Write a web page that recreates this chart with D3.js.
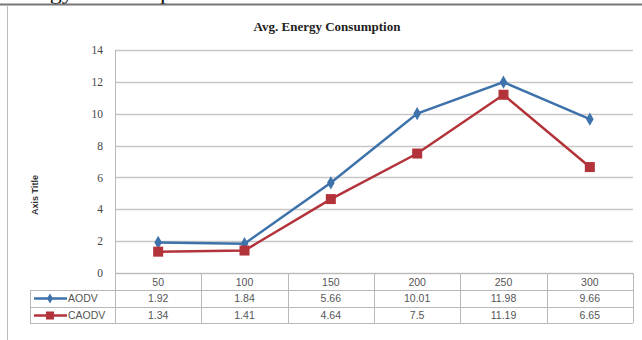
<!DOCTYPE html>
<html><head><meta charset="utf-8">
<script src="https://cdn.jsdelivr.net/npm/d3@7"></script>
<style>body{margin:0;background:#fff}svg{display:block}</style>
</head><body><svg id="c" width="642" height="340"></svg>
<script>
const categories = ["50","100","150","200","250","300"];
const aodv = [1.92, 1.84, 5.66, 10.01, 11.98, 9.66];
const caodv = [1.34, 1.41, 4.64, 7.5, 11.19, 6.65];
const yTicks = [0,2,4,6,8,10,12,14];
const seriesNames = ["AODV","CAODV"];
const seriesColors = ["#3e72aa","#b3333b"];

(function(){
const svg = d3.select("#c");
svg.append("text").attr("x",5).attr("y",-1).attr("font-family","Liberation Serif").attr("font-size",24).attr("fill","#111").text("Energy Consumption");
svg.append("line").attr("x1",0).attr("x2",642).attr("y1",4.5).attr("y2",4.5).attr("stroke","#777").attr("stroke-width",2);
svg.append("line").attr("x1",7.5).attr("x2",7.5).attr("y1",5).attr("y2",340).attr("stroke","#bbb").attr("stroke-width",1);

const pL=115, pR=633, pT=50, pB=273;
const x = d3.scaleBand().domain(categories).range([pL,pR]);
const y = d3.scaleLinear().domain([0,14]).range([pB,pT]);

svg.append("text").attr("x",327).attr("y",31).attr("text-anchor","middle").attr("font-family","Liberation Serif").attr("font-weight","bold").attr("font-size",13).attr("fill","#222").text("Avg. Energy Consumption");

svg.append("g").selectAll("line").data(yTicks).join("line")
  .attr("x1",pL).attr("x2",pR).attr("y1",d=>Math.round(y(d))+0.5).attr("y2",d=>Math.round(y(d))+0.5)
  .attr("stroke","#c8c8c8").attr("stroke-width",1.5);
svg.append("line").attr("x1",pL+0.5).attr("x2",pL+0.5).attr("y1",pT).attr("y2",323).attr("stroke","#b8b8b8");

const yAxis = d3.axisLeft(y).tickValues(yTicks).tickSize(0).tickPadding(0);
const ga = svg.append("g").attr("transform",`translate(${pL-12},0)`).call(yAxis);
ga.select(".domain").remove();
ga.selectAll("text").attr("font-family","Liberation Serif").attr("font-size",11.5).attr("fill","#444");

svg.append("text").attr("transform","translate(38,195) rotate(-90)").attr("text-anchor","middle").attr("font-family","Liberation Sans").attr("font-weight","bold").attr("font-size",9).attr("fill","#333").text("Axis Title");

const line = d3.line().x((d,i)=>x(categories[i])+x.bandwidth()/2).y(d=>y(d));
[aodv,caodv].forEach((s,k)=>{
  svg.append("path").datum(s).attr("d",line).attr("fill","none").attr("stroke",seriesColors[k]).attr("stroke-width",2.5);
});
svg.append("g").selectAll("path").data(aodv).join("path")
  .attr("transform",(d,i)=>`translate(${x(categories[i])+x.bandwidth()/2},${y(d)})`)
  .attr("d",d3.symbol(d3.symbolDiamond,50)).attr("fill",seriesColors[0]);
svg.append("g").selectAll("rect").data(caodv).join("rect")
  .attr("x",(d,i)=>x(categories[i])+x.bandwidth()/2-5).attr("y",d=>y(d)-5).attr("width",10).attr("height",10).attr("fill",seriesColors[1]);

const tblLeft=30, r0=273, r1=290, r2=307, r3=323;
const tl = svg.append("g").attr("stroke","#b8b8b8").attr("stroke-width",1);
tl.append("line").attr("x1",pL).attr("x2",pR).attr("y1",r0+0.5).attr("y2",r0+0.5);
[r1,r2,r3].forEach(r=>tl.append("line").attr("x1",tblLeft).attr("x2",pR).attr("y1",r+0.5).attr("y2",r+0.5));
tl.append("line").attr("x1",tblLeft+0.5).attr("x2",tblLeft+0.5).attr("y1",r1).attr("y2",r3);
categories.forEach(c=>{
  const xx = Math.round(x(c)+x.bandwidth())+0.5;
  tl.append("line").attr("x1",xx).attr("x2",xx).attr("y1",r0).attr("y2",r3);
});
const tf = {"font-family":"Liberation Sans","font-size":10.5,"fill":"#555"};
function txt(g,xx,yy,s,anchor){const t=g.append("text").attr("x",xx).attr("y",yy).attr("text-anchor",anchor||"middle").text(s);Object.entries(tf).forEach(([k,v])=>t.attr(k,v));return t;}
const tg = svg.append("g");
categories.forEach(c=>txt(tg,x(c)+x.bandwidth()/2,r0+12.5,c));
[aodv,caodv].forEach((s,k)=>{
  const ry = [r1,r2][k];
  s.forEach((v,i)=>txt(tg,x(categories[i])+x.bandwidth()/2,ry+12,String(v)));
  tg.append("line").attr("x1",34).attr("x2",67).attr("y1",ry+8.5).attr("y2",ry+8.5).attr("stroke",seriesColors[k]).attr("stroke-width",2.5);
  if(k===0) tg.append("path").attr("transform",`translate(50,${ry+8.5})`).attr("d",d3.symbol(d3.symbolDiamond,30)).attr("fill",seriesColors[0]);
  else tg.append("rect").attr("x",46).attr("y",ry+4.5).attr("width",8).attr("height",8).attr("fill",seriesColors[1]);
  txt(tg,68,ry+12,seriesNames[k],"start");
});
})();
</script></body></html>
